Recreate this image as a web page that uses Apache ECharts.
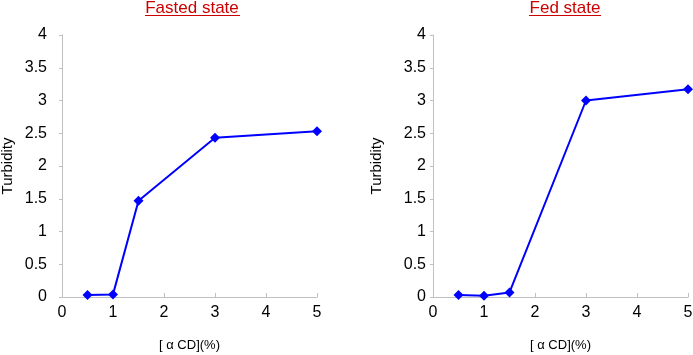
<!DOCTYPE html>
<html><head><meta charset="utf-8">
<script src="https://cdn.jsdelivr.net/npm/echarts@6/dist/echarts.min.js"></script>
<style>html,body{margin:0;padding:0;background:#fff}#c{width:693px;height:355px}</style>
</head><body><div id="c"></div>
<script>
var concentrations = [0.5, 1, 1.5, 3, 5];
var fastedTurbidity = [0.03, 0.04, 1.47, 2.43, 2.53];
var fedTurbidity = [0.03, 0.02, 0.07, 3.0, 3.17];
var titles = ['Fasted state', 'Fed state'];
var xTicks = [0, 1, 2, 3, 4, 5];
var yTicks = [0, 0.5, 1, 1.5, 2, 2.5, 3, 3.5, 4];

function pairs(xs, ys){ return xs.map(function(x,i){ return [x, ys[i]]; }); }

var chart = echarts.init(document.getElementById('c'), null, {renderer:'canvas'});
var font = 'Liberation Sans, Arial, sans-serif';
var diamond = 'path://M0,-1L1,0L0,1L-1,0Z';

function xAxis(idx){
  return {type:'value', gridIndex:idx, min:0, max:5, interval:1,
    name:'[ α CD](%)', nameLocation:'middle', nameGap:42,
    nameTextStyle:{color:'#000', fontSize:13, fontFamily:font},
    axisLine:{lineStyle:{color:'#c0c0c0', width:1}},
    axisTick:{inside:true, length:4, lineStyle:{color:'#c0c0c0'}},
    axisLabel:{color:'#000', fontSize:16, fontFamily:font, margin:8},
    splitLine:{show:false}};
}
function yAxis(idx, margin, gap){
  return {type:'value', gridIndex:idx, min:0, max:4, interval:0.5,
    name:'Turbidity', nameLocation:'middle', nameGap:gap, nameRotate:90,
    nameTextStyle:{color:'#000', fontSize:15, fontFamily:font},
    axisLine:{show:true, lineStyle:{color:'#c0c0c0', width:1}},
    axisTick:{show:true, inside:false, length:3, lineStyle:{color:'#c0c0c0'}},
    axisLabel:{color:'#000', fontSize:16, fontFamily:font, margin:margin},
    splitLine:{show:false}};
}
function series(idx, ys){
  return {type:'line', xAxisIndex:idx, yAxisIndex:idx, data:pairs(concentrations, ys),
    symbol:diamond, symbolSize:10, lineStyle:{color:'#0000ff', width:2},
    itemStyle:{color:'#0000ff'}, animation:false};
}

chart.setOption({
  animation:false,
  title:[
    {text:titles[0], left:192, top:0, padding:0, textAlign:'center', textStyle:{color:'#cc0000', fontSize:17, fontWeight:'normal', fontFamily:font}},
    {text:titles[1], left:565, top:0, padding:0, textAlign:'center', textStyle:{color:'#cc0000', fontSize:17, fontWeight:'normal', fontFamily:font}}
  ],
  graphic:[
    {type:'line', shape:{x1:145, y1:15.5, x2:240, y2:15.5}, style:{stroke:'#cc0000', lineWidth:1}},
    {type:'line', shape:{x1:529, y1:15.5, x2:601, y2:15.5}, style:{stroke:'#cc0000', lineWidth:1}}
  ],
  grid:[
    {left:62, right:376, top:35, bottom:58, containLabel:false, outerBoundsMode:'none'},
    {left:433, right:5, top:35, bottom:58, containLabel:false, outerBoundsMode:'none'}
  ],
  xAxis:[xAxis(0), xAxis(1)],
  yAxis:[yAxis(0, 15, 47), yAxis(1, 7, 49)],
  series:[series(0, fastedTurbidity), series(1, fedTurbidity)]
});
</script></body></html>
